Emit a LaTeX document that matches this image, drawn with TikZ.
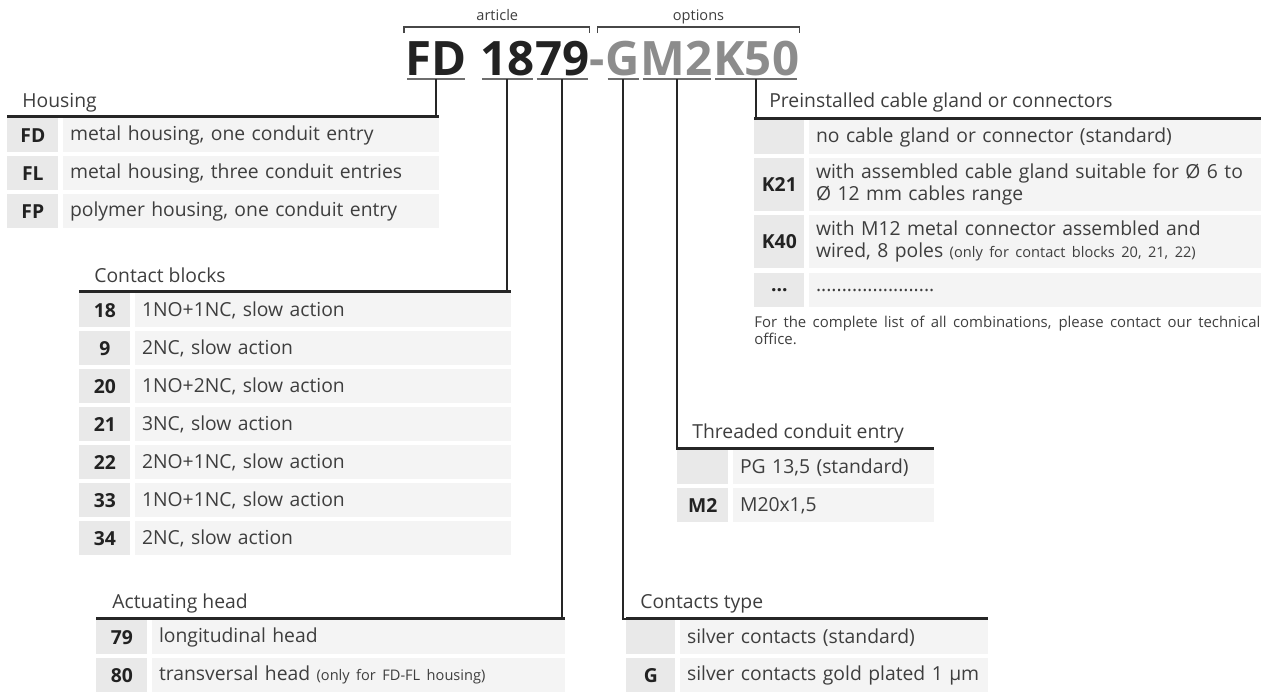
\documentclass[tikz,border=0pt]{standalone}
\usepackage{fontspec}
\setmainfont{Open Sans}
\usepackage{tikz}
\usetikzlibrary{positioning,calc}
\usepackage{xcolor}
\definecolor{InkD}  {RGB}{34, 34, 34}
\definecolor{Ink}   {RGB}{62, 62, 62}
\definecolor{CodeG} {RGB}{233,233,233}
\definecolor{DescG} {RGB}{244,244,244}
\definecolor{OptG}  {RGB}{140,140,140}
\definecolor{RuleD} {RGB}{38, 38, 38}
\definecolor{ULine} {RGB}{110,110,110}
\newlength\pxu
\setlength\pxu{0.02cm}
\newcommand\bodysize{\fontsize{11}{12.5}\selectfont}
\newcommand\notesize{\fontsize{8.3}{10}\selectfont}

\begin{document}
\begin{tikzpicture}[x=\pxu,y=-\pxu,
    cell/.style={anchor=north west,inner sep=0pt,minimum height=34\pxu,font=\bodysize},
    code/.style={cell,fill=CodeG,text=InkD,font=\bodysize\bfseries,minimum width=#1\pxu},
    desc/.style={cell,fill=DescG,text=Ink,align=left,inner xsep=7\pxu,text width=#1\pxu},
    title/.style={anchor=base west,inner sep=0pt,text=Ink,font=\bodysize},
    hdr/.style={RuleD,line width=3\pxu},
    conn/.style={RuleD,line width=2\pxu},
    brk/.style={RuleD!85,line width=1.5\pxu},
    uline/.style={ULine,line width=2.5\pxu},
    big/.style={anchor=base west,inner sep=0pt,text=InkD,
                font=\fontsize{27}{30}\selectfont\bfseries}]
  \useasboundingbox (0,0) rectangle (1272,691);

  % order code
  \node[big] (cfd) at (405,75) {FD};
  \node[big] (c18) at ($(cfd.base east)+(13,0)$) {18};
  \node[big] (c79) at (c18.base east) {79};
  \node[big,text=OptG] (cdash) at (c79.base east) {-};
  \node[big,text=OptG] (cg) at (cdash.base east) {G};
  \node[big,text=OptG] (cm2) at (cg.base east) {M2};
  \node[big,text=OptG] (ck50) at (cm2.base east) {K50};
  \foreach \n in {cfd,c18,c79,cg,cm2,ck50}{
    \draw[uline] ($(\n.base west)+(2,4)$) -- ($(\n.base east)+(-2,4)$);
    \coordinate (u-\n) at ($(\n.base)+(0,4)$);}

  \draw[brk] ($(cfd.base west)+(-1,-42)$) -- ++(0,-6) -| ($(c79.base east)+(0,-42)$);
  \draw[brk] ($(cdash.base)+(0,-42)$) -- ++(0,-6) -| ($(ck50.base east)+(0,-42)$);
  \coordinate (art-m) at ($(cfd.base west)!0.5!(c79.base east)$);
  \coordinate (opt-m) at ($(cdash.base)!0.5!(ck50.base east)$);
  \node[anchor=base,text=Ink,font=\notesize] (art-lbl) at ([yshift=55\pxu]art-m) {article};
  \node[anchor=base,text=Ink,font=\notesize] (opt-lbl) at ([yshift=55\pxu]opt-m) {options};

  % housing
  \foreach \c/\d [count=\i] in {FD/{metal housing, one conduit entry},
      FL/{metal housing, three conduit entries},FP/{polymer housing, one conduit entry}}{
    \node[code=51] (hous-c\i) at (7,{118+38*(\i-1)}) {\c};
    \node[desc=362,right=4\pxu of hous-c\i] (hous-d\i) {\d};}
  \node[title] (hous-t) at ($(hous-c1.north west)+(15,-11)$) {Housing};
  \draw[hdr] ([yshift=1.5\pxu]hous-c1.north west) -- ([yshift=1.5\pxu]hous-d1.north east);
  \draw[conn] (u-cfd) |- ([yshift=1.5\pxu]hous-d1.north east);

  % contact blocks
  \foreach \c/\d [count=\i] in {18/{1NO+1NC, slow action},9/{2NC, slow action},
      20/{1NO+2NC, slow action},21/{3NC, slow action},22/{2NO+1NC, slow action},
      33/{1NO+1NC, slow action},34/{2NC, slow action}}{
    \node[code=51] (cb-c\i) at (79,{293+38*(\i-1)}) {\c};
    \node[desc=362,right=4\pxu of cb-c\i] (cb-d\i) {\d};}
  \node[title] (cb-t) at ($(cb-c1.north west)+(15,-11)$) {Contact blocks};
  \draw[hdr] ([yshift=1.5\pxu]cb-c1.north west) -- ([yshift=1.5\pxu]cb-d1.north east);
  \draw[conn] (u-c18) |- ([yshift=1.5\pxu]cb-d1.north east);

  % actuating head
  \node[code=51] (act-c1) at (96,620) {79};
  \node[desc=399,right=4\pxu of act-c1] (act-d1) {longitudinal head};
  \node[code=51] (act-c2) at (96,658) {80};
  \node[desc=399,right=4\pxu of act-c2] (act-d2) {transversal head {\notesize (only for FD-FL housing)}};
  \node[title] (act-t) at ($(act-c1.north west)+(16,-12)$) {Actuating head};
  \draw[hdr] ([yshift=1.5\pxu]act-c1.north west) -- ([yshift=1.5\pxu]act-d1.north east);
  \draw[conn] (u-c79) |- ([yshift=1.5\pxu]act-d1.north east);

  % contacts type
  \node[code=49] (ct-c1) at (626,620) {};
  \node[desc=294,right=4\pxu of ct-c1] (ct-d1) {silver contacts (standard)};
  \node[code=49] (ct-c2) at (626,658) {G};
  \node[desc=294,right=4\pxu of ct-c2] (ct-d2) {silver contacts gold plated 1 µm};
  \node[title] (ct-t) at ($(ct-c1.north west)+(14,-12)$) {Contacts type};
  \draw[hdr] ([yshift=1.5\pxu]ct-c1.north west) -- ([yshift=1.5\pxu]ct-d1.north east);
  \draw[conn] (u-cg) |- ([yshift=1.5\pxu]ct-c1.north west);

  % threaded conduit entry
  \node[code=51] (thr-c1) at (677,450) {};
  \node[desc=187,right=4\pxu of thr-c1] (thr-d1) {PG 13,5 (standard)};
  \node[code=51] (thr-c2) at (677,488) {M2};
  \node[desc=187,right=4\pxu of thr-c2] (thr-d2) {M20x1,5};
  \node[title] (thr-t) at ($(thr-c1.north west)+(15,-12)$) {Threaded conduit entry};
  \draw[hdr] ([yshift=1.5\pxu]thr-c1.north west) -- ([yshift=1.5\pxu]thr-d1.north east);
  \draw[conn] (u-cm2) |- ([yshift=1.5\pxu]thr-c1.north west);

  % preinstalled cable gland
  \node[code=50] (pre-c1) at (754,120) {};
  \node[desc=438,right=4\pxu of pre-c1] (pre-d1) {no cable gland or connector (standard)};
  \node[code=50,minimum height=53\pxu] (pre-c2) at (754,158) {K21};
  \node[desc=438,minimum height=53\pxu,right=4\pxu of pre-c2] (pre-d2)
    {with assembled cable gland suitable for Ø 6 to\\Ø 12 mm cables range};
  \node[code=50,minimum height=53\pxu] (pre-c3) at (754,215) {K40};
  \node[desc=438,minimum height=53\pxu,right=4\pxu of pre-c3] (pre-d3)
    {with M12 metal connector assembled and\\wired, 8 poles {\notesize (only for contact blocks 20, 21, 22)}};
  \node[code=50] (pre-c4) at (754,273) {...};
  \node[desc=438,right=4\pxu of pre-c4] (pre-d4) {.......................};
  \node[title] (pre-t) at ($(pre-c1.north west)+(15,-13)$) {Preinstalled cable gland or connectors};
  \draw[hdr] ([yshift=1.5\pxu]pre-c1.north west) -- ([yshift=1.5\pxu]pre-d1.north east);
  \draw[conn] (u-ck50) |- ([yshift=1.5\pxu]pre-c1.north west);
  \node[anchor=north west,inner sep=0pt,text=Ink,font=\fontsize{8.5}{9.8}\selectfont,
        text width=506\pxu,align=justify] (pre-note) at ($(pre-c4.south west)+(0,8)$)
    {For the complete list of all combinations, please contact our technical\linebreak office.};
\end{tikzpicture}
\end{document}
